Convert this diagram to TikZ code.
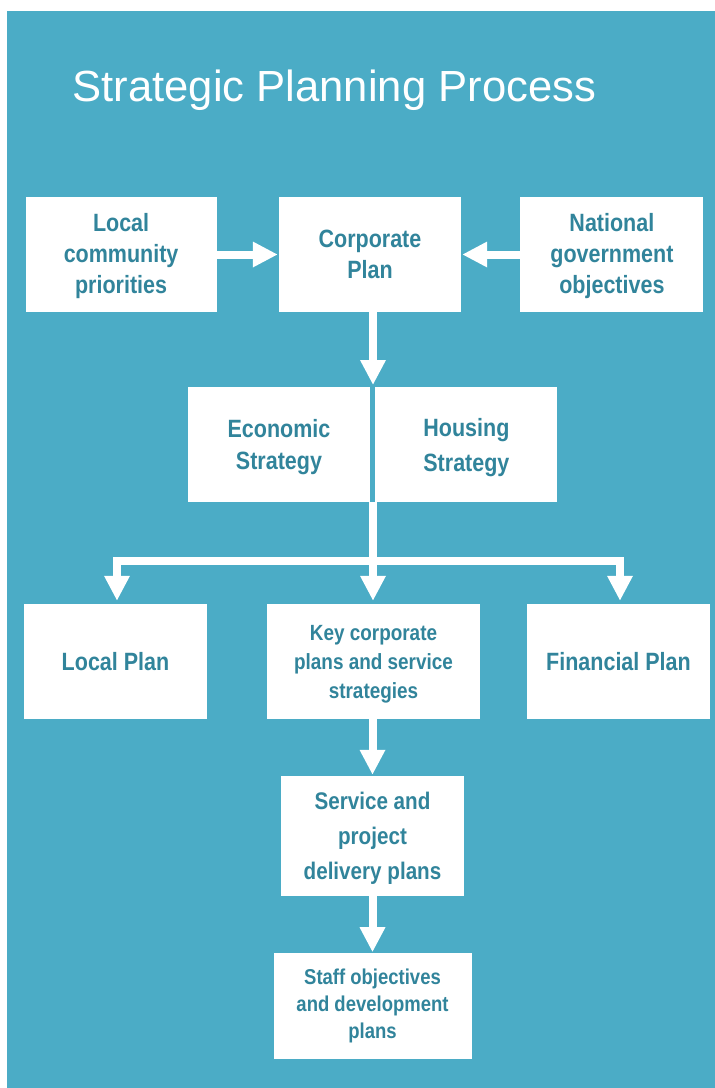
\documentclass[tikz,border=0pt]{standalone}
\usepackage{fontspec}
\setmainfont{Liberation Sans}
\newfontfamily\boxfont[FakeStretch=0.86]{Liberation Sans}
\usetikzlibrary{positioning,arrows.meta}
\definecolor{bgteal}{HTML}{4BACC6}
\definecolor{txtteal}{HTML}{31849B}

\begin{document}
\begin{tikzpicture}[x=1pt,y=-1pt,node distance=57pt,
    plan/.style={fill=white,text=txtteal,align=center,inner sep=0pt,
                 minimum width=183pt,minimum height=115pt},
    big/.style={font=\boxfont\bfseries\fontsize{25}{31}\selectfont},
    small/.style={font=\boxfont\bfseries\fontsize{22}{29}\selectfont},
    textdrop/.style={text depth=#1},
    arr/.style={draw=white,line width=8pt,line join=miter,
                -{Triangle[width=24pt,length=25pt]}}
                   ]

    \useasboundingbox (0,0) rectangle (715,1088);
    \fill[bgteal] (7,11) rectangle (715,1088);

    \node[anchor=base west,text=white,font=\fontsize{43.6}{50}\selectfont]
        (title) at (69,101) {Strategic Planning Process};

    % top row
    \node[plan,big,minimum width=182pt](corp) at (370,254.5){Corporate\\Plan};
    \node[plan,big,minimum width=191pt,textdrop=3pt,left=62pt of corp](local){Local\\community\\priorities};
    \node[plan,big,textdrop=3pt,right=59pt of corp](natl){National\\government\\objectives};

    % strategies
    \node[plan,big,minimum width=182pt,textdrop=-2.7pt,
          font=\boxfont\bfseries\fontsize{25}{32}\selectfont](econ) at (279,444.5){Economic\\Strategy};
    \node[plan,big,minimum width=182pt,textdrop=-0.7pt,right=5pt of econ,
          font=\boxfont\bfseries\fontsize{25}{35}\selectfont](housing){Housing\\Strategy};

    % plans
    \node[plan,big,textdrop=-1pt](localplan) at (115.5,661.5){Local Plan};
    \node[plan,small,minimum width=213pt,textdrop=-0.4pt](keyplans) at (373.5,661.5){Key corporate\\plans and service\\strategies};
    \node[plan,big,textdrop=-1pt](finplan) at (618.5,661.5){Financial Plan};
    \node[plan,minimum height=120pt,textdrop=-1pt,
          font=\boxfont\bfseries\fontsize{24}{35}\selectfont](service) at (372.5,836){Service and\\project\\delivery plans};
    \node[plan,minimum width=198pt,minimum height=106pt,below=of service,
          font=\boxfont\bfseries\fontsize{21.5}{27}\selectfont](staff){Staff objectives\\and development\\plans};
    %\node[plan,big,below=of staff](extra){};

    \coordinate (mid) at (373,387);
    \coordinate (fork) at (373,502);
    \coordinate (bar) at (373,561);

    \draw[arr,shorten >=1pt] (local) -- (corp);
    \draw[arr,shorten >=1pt] (natl) -- (corp);
    \draw[arr,shorten >=2pt] (corp.south -| mid) -- (mid);
    \draw[arr,shorten >=3pt] (fork) -- (keyplans.north -| fork);
    \draw[arr,shorten >=3pt] (bar) -| ([xshift=1.5pt]localplan.north);
    \draw[arr,shorten >=3pt] (bar) -| ([xshift=1.5pt]finplan.north);
    \draw[arr,shorten >=1pt] (keyplans.south -| service.north) -- (service.north);
    \draw[arr,shorten >=1pt] (service.south) -- (service.south |- staff.north);

\end{tikzpicture}
\end{document}
